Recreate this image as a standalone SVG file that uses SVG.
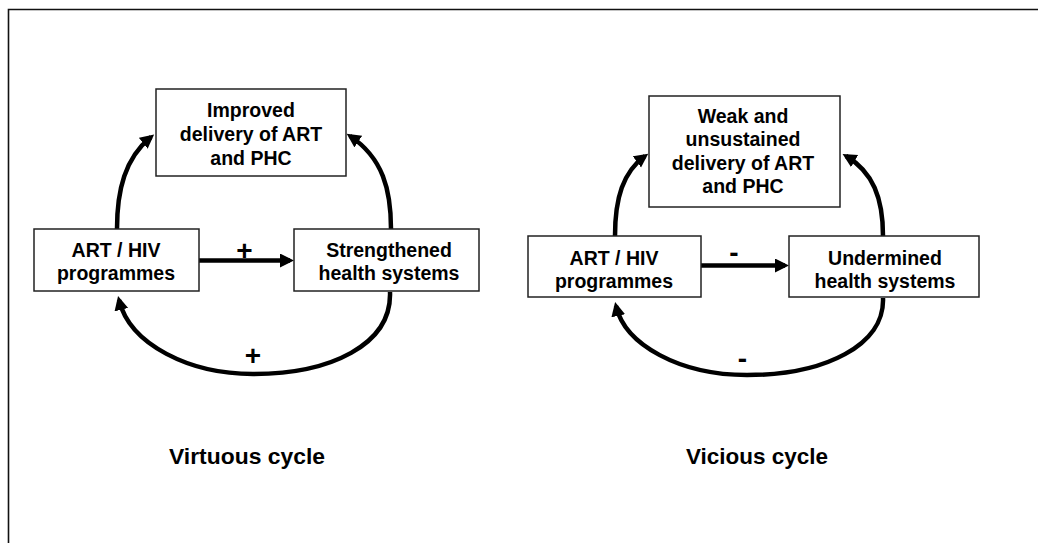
<svg xmlns="http://www.w3.org/2000/svg" width="1038" height="543" viewBox="0 0 1038 543">
<style>
.box{fill:#fff;stroke:#222;stroke-width:1.5}
.t{font-family:"Liberation Sans",Arial,sans-serif;font-weight:bold;font-size:19.5px;fill:#000;text-anchor:middle}
.sign{font-family:"Liberation Sans",Arial,sans-serif;font-weight:bold;font-size:28px;fill:#000;text-anchor:middle}
.cap{font-family:"Liberation Sans",Arial,sans-serif;font-weight:bold;font-size:22.5px;fill:#000}
.c{fill:none;stroke:#000;stroke-width:4.5;marker-end:url(#ah)}
</style>
<defs>
<marker id="ah" markerUnits="userSpaceOnUse" markerWidth="16" markerHeight="16" refX="10" refY="7" orient="auto">
<path d="M0,0 L14,7 L0,14 Z" fill="#000"/>
</marker>
</defs>
<rect width="1038" height="543" fill="#fff"/>
<g id="frame" fill="none" stroke="#111" stroke-width="1.6">
<path d="M1038,9.5 L8.5,9.5 L8.5,543"/>
</g>
<g id="connectors">
<path class="c" d="M199,260.5 L290,260.5"/>
<path class="c" d="M117,229 C117,190 125,158 151,137"/>
<path class="c" d="M391,229 C391,190 383,158 350,136"/>
<path class="c" d="M390,292 C392,345 330,374 253,374 C190,374 130,345 119,300"/>
<path class="c" d="M701,265.5 L785,265.5"/>
<path class="c" d="M615,236 C615,198 623,172 645,156"/>
<path class="c" d="M883,236 C883,198 873,172 846,156"/>
<path class="c" d="M883,298 C885,345 825,375 747,375 C680,375 625,345 616,306"/>
</g>
<g id="labels">
<text class="sign" x="244.5" y="260">+</text>
<text class="sign" x="253" y="365">+</text>
<text class="sign" x="734" y="261.5">-</text>
<text class="sign" x="742.5" y="367.5">-</text>
</g>
<g id="n-improved">
<rect class="box" x="156" y="89" width="190" height="87"/>
<text class="t" x="251" y="116.5">Improved</text>
<text class="t" x="251" y="140.5">delivery of ART</text>
<text class="t" x="251" y="164.5">and PHC</text>
</g>
<g id="n-art-left">
<rect class="box" x="34" y="229" width="165" height="62"/>
<text class="t" x="116" y="256.5">ART / HIV</text>
<text class="t" x="116" y="280">programmes</text>
</g>
<g id="n-strengthened">
<rect class="box" x="294" y="229" width="185" height="62"/>
<text class="t" x="389" y="256.5">Strengthened</text>
<text class="t" x="389" y="280">health systems</text>
</g>
<g id="n-weak">
<rect class="box" x="649" y="96" width="191" height="111"/>
<text class="t" x="743" y="123">Weak and</text>
<text class="t" x="743" y="146.3">unsustained</text>
<text class="t" x="743" y="169.6">delivery of ART</text>
<text class="t" x="743" y="193">and PHC</text>
</g>
<g id="n-art-right">
<rect class="box" x="528" y="236" width="173" height="61"/>
<text class="t" x="614" y="265">ART / HIV</text>
<text class="t" x="614" y="288">programmes</text>
</g>
<g id="n-undermined">
<rect class="box" x="789" y="236" width="190" height="61"/>
<text class="t" x="885" y="265">Undermined</text>
<text class="t" x="885" y="288">health systems</text>
</g>
<g id="captions">
<text class="cap" x="169" y="464" textLength="156" lengthAdjust="spacingAndGlyphs">Virtuous cycle</text>
<text class="cap" x="686" y="464" textLength="142" lengthAdjust="spacingAndGlyphs">Vicious cycle</text>
</g>
</svg>
